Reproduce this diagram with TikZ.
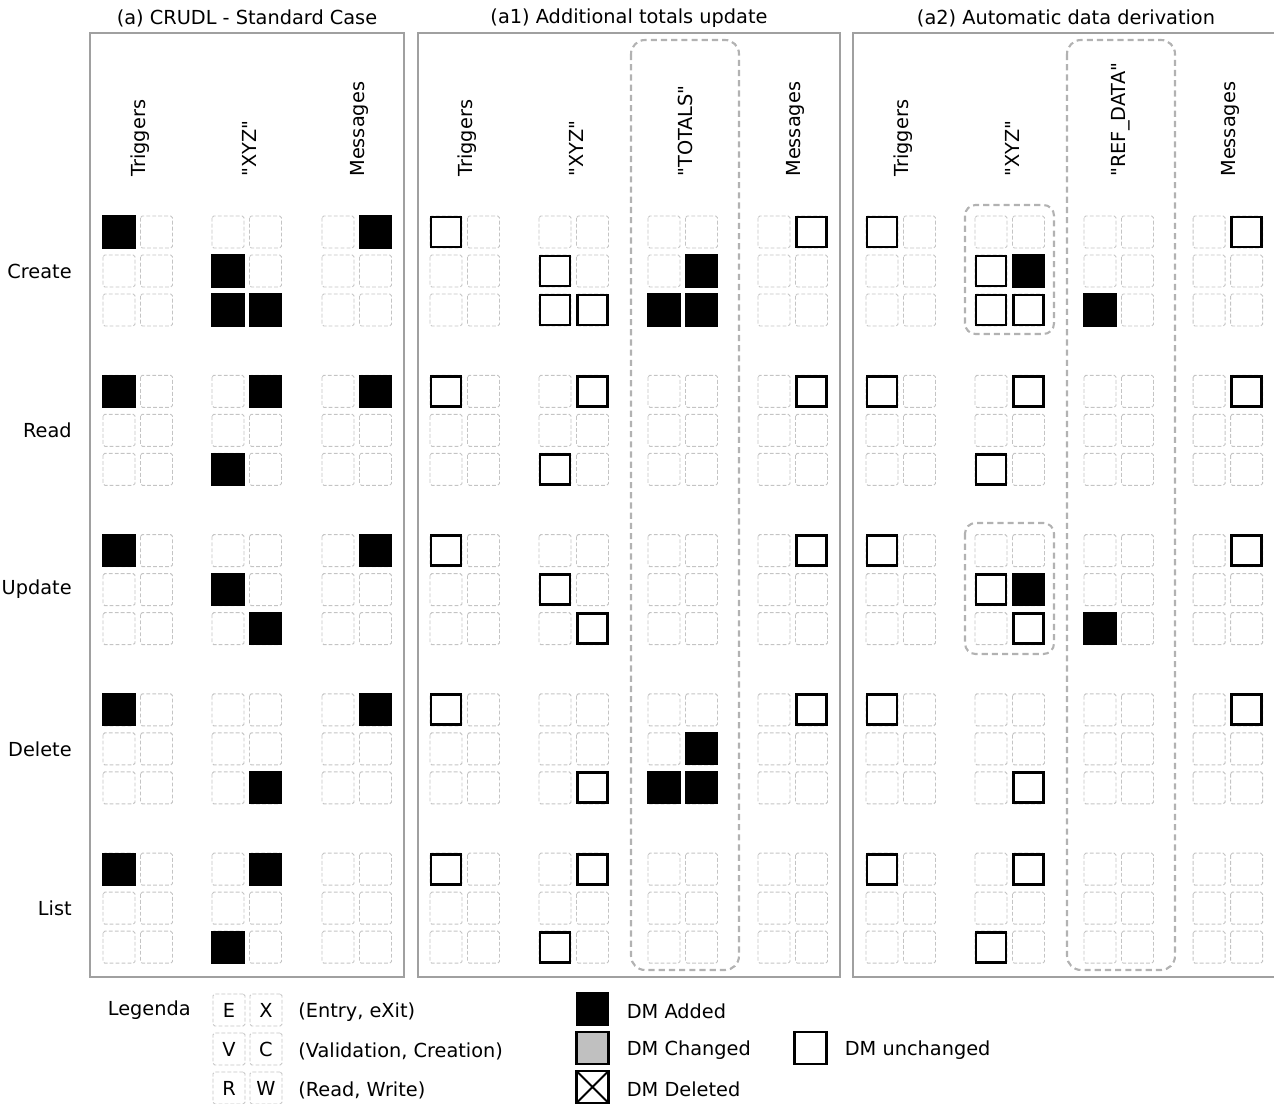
\documentclass[tikz,border=0pt]{standalone}
\usepackage{fontspec}
\setmainfont{DejaVu Sans}
\usetikzlibrary{positioning}
\definecolor{slotgray}{RGB}{196,196,196}
\definecolor{framegray}{RGB}{160,160,160}
\definecolor{groupgray}{RGB}{178,178,178}
\definecolor{changedgray}{RGB}{192,192,192}
\newcommand{\qt}[1]{\textquotedbl#1\textquotedbl}

\tikzset{
    lbl/.style={font=\fontsize{11}{13}\selectfont, inner sep=0pt},
    slot/.style={draw=slotgray, line width=0.55pt, dash pattern=on 2.2pt off 1.2pt, rounded corners=1pt},
    added/.style={fill=black, draw=black, line width=0.6pt},
    kept/.style={draw=black, line width=1.6pt, fill=white},
    changed/.style={draw=black, line width=1.6pt, fill=changedgray},
    panel/.style={draw=framegray, line width=0.9pt},
    groupbox/.style={draw=groupgray, line width=1.2pt, dash pattern=on 3.5pt off 2.3pt, rounded corners=8pt},
    legbox/.style={minimum size=0.64cm, outer sep=0pt},
}

\begin{document}
\begin{tikzpicture}[x=0.02cm, y=-0.02cm]
    \useasboundingbox (0,0) rectangle (1274,1104);

    % --- panels and titles ---
    \draw[panel] (90,33) rectangle (404,977);
    \draw[panel] (418,33) rectangle (840,977);
    \draw[panel] (853,33) rectangle (1280,977);
    \node[lbl] (ttlA) at (247,18) {(a) CRUDL - Standard Case};
    \node[lbl] (ttlB) at (629,18) {(a1) Additional totals update};
    \node[lbl] (ttlC) at (1066,18) {(a2) Automatic data derivation};

    % Dashed groupings
    \draw[groupbox] (631,40) rectangle (739,970);
    \draw[groupbox] (1067,40) rectangle (1175,970);
    \draw[groupbox, rounded corners=6pt] (965,205) rectangle (1054,334);
    \draw[groupbox, rounded corners=6pt] (965,523) rectangle (1054,654);

    % Column headers
    \foreach \gx/\t in {103/Triggers, 212/\qt{XYZ}, 322/Messages,
        430/Triggers, 539/\qt{XYZ}, 648/\qt{TOTALS}, 758/Messages,
        866/Triggers, 975/\qt{XYZ}, 1084/\qt{REF\_DATA}, 1193/Messages}{
        \node[lbl, rotate=90, anchor=west] (hd\gx) at ({\gx+37},177) {\t};
    }

    % Row labels
    \foreach \t [count=\k from 0] in {Create,Read,Update,Delete,List}{
        \node[lbl, anchor=east] (row\k) at (72,{271+159.3*\k}) {\t};
    }

    % Empty slots (E/X, V/C, R/W)
    \foreach \gx in {103,212,322,430,539,648,758,866,975,1084,1193}{
        \foreach \k in {0,...,4}{
            \foreach \r in {0,1,2}{
                \foreach \c in {0,1}{
                    \draw[slot] ({\gx+37.5*\c},{216+159.3*\k+39*\r}) rectangle ++(32,32);
                }
            }
        }
    }

    % DM added
    \foreach \gx/\k/\r/\c in {103/0/0/0, 103/1/0/0, 103/2/0/0, 103/3/0/0, 103/4/0/0,
        212/0/1/0, 212/0/2/0, 212/0/2/1, 212/1/0/1, 212/1/2/0,
        212/2/1/0, 212/2/2/1, 212/3/2/1, 212/4/0/1, 212/4/2/0,
        322/0/0/1, 322/1/0/1, 322/2/0/1, 322/3/0/1,
        648/0/1/1, 648/0/2/0, 648/0/2/1, 648/3/1/1, 648/3/2/0, 648/3/2/1,
        975/0/1/1, 975/2/1/1, 1084/0/2/0, 1084/2/2/0}{
        \draw[added] ({\gx+37.5*\c},{216+159.3*\k+39*\r}) rectangle ++(32,32);
    }

    % DM unchanged
    \foreach \gx/\k/\r/\c in {430/0/0/0, 430/1/0/0, 430/2/0/0, 430/3/0/0, 430/4/0/0,
        539/0/1/0, 539/0/2/0, 539/0/2/1, 539/1/0/1, 539/1/2/0,
        539/2/1/0, 539/2/2/1, 539/3/2/1, 539/4/0/1, 539/4/2/0,
        758/0/0/1, 758/1/0/1, 758/2/0/1, 758/3/0/1,
        866/0/0/0, 866/1/0/0, 866/2/0/0, 866/3/0/0, 866/4/0/0,
        975/0/1/0, 975/0/2/0, 975/0/2/1, 975/1/0/1, 975/1/2/0,
        975/2/1/0, 975/2/2/1, 975/3/2/1, 975/4/0/1, 975/4/2/0,
        1193/0/0/1, 1193/1/0/1, 1193/2/0/1, 1193/3/0/1}{
        \draw[kept] ({\gx+37.5*\c+1},{216+159.3*\k+39*\r+1}) rectangle ++(30,30);
    }

    % --- Legend ---
    \foreach \a/\b/\t [count=\i from 0] in {E/X/{(Entry, eXit)}, V/C/{(Validation, Creation)}, R/W/{(Read, Write)}}{
        \node[slot, lbl, legbox] (lg\a) at (229,{1010+39*\i}) {\a};
        \node[slot, lbl, legbox, right=0.1cm of lg\a] (lg\b) {\b};
        \node[lbl, right=0.32cm of lg\b, yshift=-0.05cm] (lg\a\b) {\t};
    }
    \node[lbl, left=0.44cm of lgE] (lgTitle) {Legenda};

    \node[added, legbox] (lgAdd) at (592.5,1009) {};
    \node[lbl, right=0.36cm of lgAdd, yshift=-0.04cm] (lgAddT) {DM Added};
    \node[changed, legbox] (lgChg) at (592.5,1048) {};
    \node[lbl, right=0.36cm of lgChg, yshift=-0.04cm] (lgChgT) {DM Changed};
    \node[kept, legbox, path picture={
        \draw[line width=1.1pt] (path picture bounding box.north west) -- (path picture bounding box.south east)
            (path picture bounding box.south west) -- (path picture bounding box.north east);}] (lgDel) at (592.5,1087) {};
    \node[lbl, right=0.36cm of lgDel, yshift=-0.04cm] (lgDelT) {DM Deleted};
    \node[kept, legbox] (lgKeep) at (810.5,1048) {};
    \node[lbl, right=0.36cm of lgKeep, yshift=-0.04cm] (lgKeepT) {DM unchanged};
\end{tikzpicture}
\end{document}
